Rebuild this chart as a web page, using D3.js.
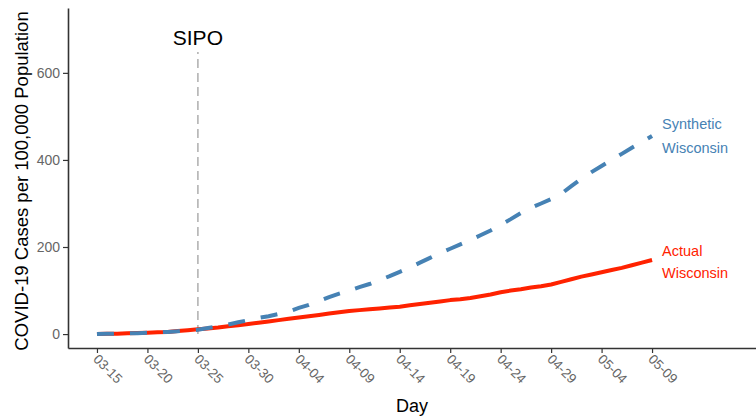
<!DOCTYPE html>
<html><head><meta charset="utf-8">
<script src="https://cdn.jsdelivr.net/npm/d3@7"></script>
<style>
body{margin:0;background:#fff;}
svg{display:block;font-family:"Liberation Sans",Arial,sans-serif;}
</style></head>
<body><svg id="c" width="756" height="419"></svg>
<script>
// Day index 0 = 03-15 ... 55 = 05-09
const days = d3.range(0, 56);
const actualWI = [0,0.5,1,2,2.5,3,4,5,7,9,11,13,15,18,20,23,26,29,32,35,38,41,44,47,50,53,55,57,59,61,63,66,69,72,75,78,80,83,87,91,96,100,103,107,110,114,120,126,132,137,142,147,152,158,164,170];
const syntheticWI = [0,0.5,1,1.5,2,3,4,5,6.5,8,10,14,18,22,27,32,37,41,46,52,60,67,76,85,93,100,108,115,124,133,143,153,164,175,186,196,206,216,227,238,251,264,278,290,300,310,322,340,357,372,386,400,414,428,441,455];
const tickDays = [0,5,10,15,20,25,30,35,40,45,50,55];
const tickLabels = ["03-15","03-20","03-25","03-30","04-04","04-09","04-14","04-19","04-24","04-29","05-04","05-09"];
const yTicks = [0,200,400,600];
const sipoDay = 10, sipoTop = 648, sipoLabelY = 680;

const svg = d3.select("#c");
const x = d3.scaleLinear().domain([-2.87, 65.3]).range([68, 756]);
const y = d3.scaleLinear().domain([-32, 749]).range([348, 8]);

// axes
const xa = svg.append("g").attr("transform","translate(0,348)")
  .call(d3.axisBottom(x).tickValues(tickDays).tickFormat((d,i)=>tickLabels[i]).tickSize(5).tickSizeOuter(0));
xa.select(".domain").attr("stroke","#333").attr("stroke-width",1.6);
xa.selectAll(".tick line").attr("stroke","#333").attr("stroke-width",1.2);
xa.selectAll(".tick text").attr("fill","#666").style("font-size","13.5px")
  .attr("text-anchor","start").attr("dy",null).attr("y",0)
  .attr("transform","translate(-5,12) rotate(45)");

const ya = svg.append("g").attr("transform","translate(68,0)")
  .call(d3.axisLeft(y).tickValues(yTicks).tickSize(5).tickSizeOuter(0));
ya.select(".domain").attr("stroke","#333").attr("stroke-width",1.6);
ya.selectAll(".tick line").attr("stroke","#333").attr("stroke-width",1.2);
ya.selectAll(".tick text").attr("fill","#666").style("font-size","14px").attr("x",-8);

// SIPO
svg.append("line").attr("x1",x(sipoDay)).attr("x2",x(sipoDay))
  .attr("y1",y(0)).attr("y2",y(sipoTop))
  .attr("stroke","#b3b3b3").attr("stroke-width",1.6).attr("stroke-dasharray","9,5");
svg.append("text").attr("x",x(sipoDay)).attr("y",y(sipoLabelY)).attr("dy","0.35em")
  .attr("text-anchor","middle").style("font-size","21px").attr("fill","#000").text("SIPO");

// lines
const line = d3.line().x((d,i)=>x(days[i])).y(d=>y(d)).curve(d3.curveLinear);
svg.append("path").datum(actualWI).attr("d",line).attr("fill","none")
  .attr("stroke","#ff2200").attr("stroke-width",4).attr("stroke-linejoin","round");
svg.append("path").datum(syntheticWI).attr("d",line).attr("fill","none")
  .attr("stroke","#4682b4").attr("stroke-width",4).attr("stroke-dasharray","17,16");

// end labels
const lx = x(55) + 10;
svg.append("text").attr("x",lx).attr("y",124).attr("dy","0.35em").attr("fill","#4682b4").style("font-size","14.5px").text("Synthetic");
svg.append("text").attr("x",lx).attr("y",148).attr("dy","0.35em").attr("fill","#4682b4").style("font-size","14.5px").text("Wisconsin");
svg.append("text").attr("x",lx).attr("y",251).attr("dy","0.35em").attr("fill","#ff2200").style("font-size","14.5px").text("Actual");
svg.append("text").attr("x",lx).attr("y",273).attr("dy","0.35em").attr("fill","#ff2200").style("font-size","14.5px").text("Wisconsin");

// axis titles
svg.append("text").attr("x",412).attr("y",406).attr("dy","0.35em").attr("text-anchor","middle")
  .style("font-size","18px").attr("fill","#000").text("Day");
svg.append("text").attr("transform","translate(22,181) rotate(-90)").attr("dy","0.35em").attr("text-anchor","middle")
  .style("font-size","18.5px").attr("fill","#000").text("COVID-19 Cases per 100,000 Population");
</script></body></html>
